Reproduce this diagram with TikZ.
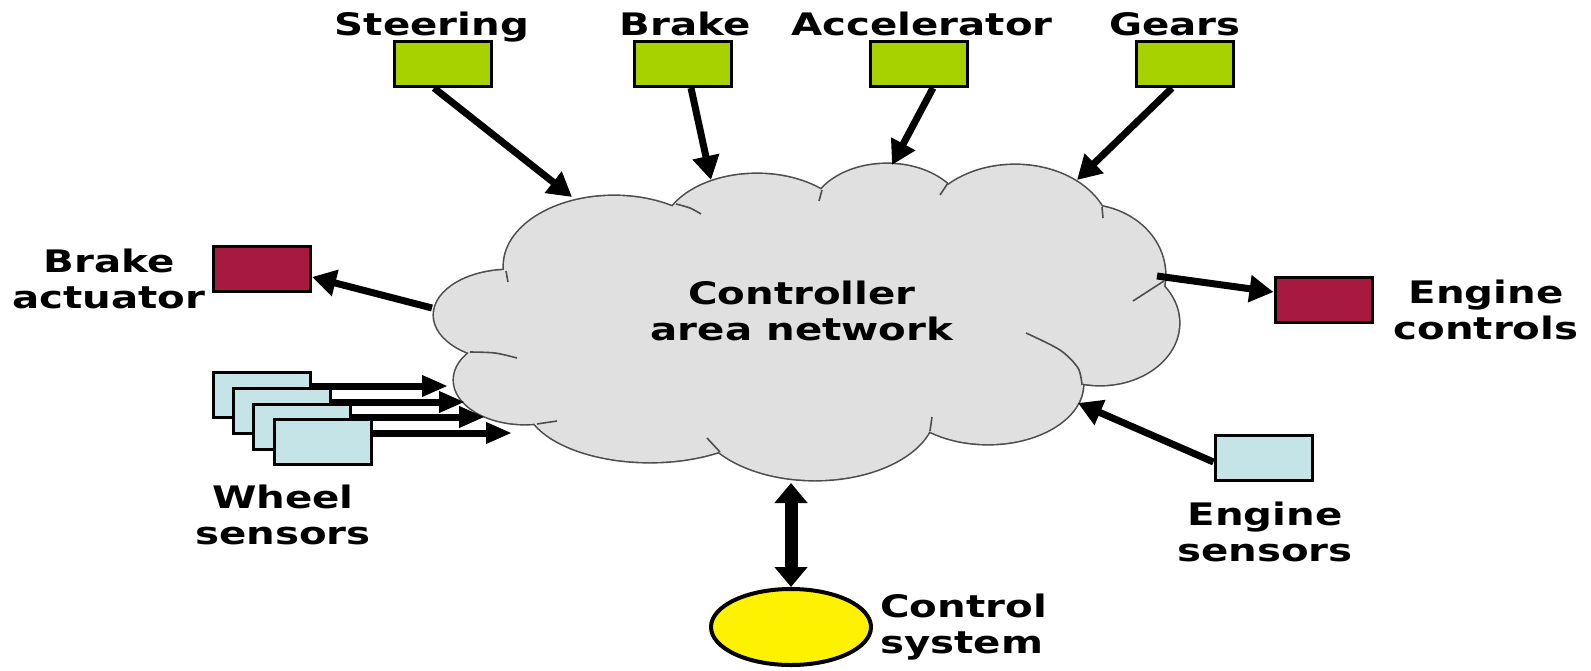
\documentclass[tikz,border=0pt]{standalone}
\usepackage{fontspec}
\newfontfamily\lblfont{DejaVu Sans Bold}[FakeStretch=1.3]
\usetikzlibrary{arrows.meta,calc,shapes.geometric}
\definecolor{gbox}{HTML}{A8D100}
\definecolor{rbox}{HTML}{A8193F}
\definecolor{bbox}{HTML}{C5E4E7}
\definecolor{cloudfill}{HTML}{E0E0E0}
\definecolor{cloudedge}{HTML}{4D4D4D}
\begin{document}
\begin{tikzpicture}[x=0.5pt,y=-0.5pt,
  lbl/.style={font=\lblfont\fontsize{15.5}{18}\selectfont, inner sep=0pt, align=center},
  unit/.style={draw=black, line width=1.5pt, minimum width=48.5pt, minimum height=22.5pt, inner sep=0pt},
  cloudline/.style={draw=cloudedge, line width=0.8pt},
  arr/.style={line width=3.5pt, -{Triangle[length=12pt,width=13pt]}},
  warr/.style={line width=3.5pt, -{Triangle[length=13pt,width=10pt]}},
  darr/.style={line width=6.5pt, {Triangle[length=10pt,width=16pt]}-{Triangle[length=10pt,width=16pt]}}
]
\useasboundingbox (0,0) rectangle (1591,670);

% cloud: union of lobes; outline drawn double width, inner half covered by the fill
\def\lobes{614/266/110/70, 757/234/95/60, 887/219/78/55, 1015/235/95/70,
  1085/275/80/70, 1100/323/79/62, 988/384/95/60, 815/410/120/70,
  650/400/125/62, 525/380/71/44, 510/315/76/45}
\foreach \cx/\cy/\rx/\ry in \lobes
  \draw[draw=cloudedge, line width=1.6pt] (\cx,\cy) ellipse [x radius=\rx, y radius=\ry];
\foreach \cx/\cy/\rx/\ry in \lobes
  \fill[cloudfill] (\cx,\cy) ellipse [x radius=\rx, y radius=\ry];
\fill[cloudfill] (800,320) ellipse [x radius=300, y radius=110];
% inner arcs of the cloud
\draw[cloudline] plot[smooth] coordinates {(470,352) (495,353) (517,358)};
\draw[cloudline] (506,271) -- (508,282);
\draw[cloudline] plot[smooth] coordinates {(676,204) (690,208) (701,214)};
\draw[cloudline] (822,190) -- (819,201);
\draw[cloudline] (948,183) -- (940,195);
\draw[cloudline] (1102,207) -- (1103,218);
\draw[cloudline] plot[smooth] coordinates {(1164,281) (1150,290) (1133,301)};
\draw[cloudline] plot[smooth] coordinates {(1026,333) (1060,350) (1078,368) (1082,385)};
\draw[cloudline] (930,431) -- (932,417);
\draw[cloudline] (720,452) -- (707,438);
\draw[cloudline] (537,424) -- (557,421);

\node[lbl, anchor=north] (can) at (802,280.4) {Controller\\area network};

% cloud attachment points
\coordinate (cSteer) at (572,197);
\coordinate (cBrake) at (711,180);
\coordinate (cAcc) at (892,165);
\coordinate (cGears) at (1077,180);
\coordinate (cBact) at (432,308);
\coordinate (cEctl) at (1157,276);
\coordinate (cEsens) at (1078,403);
\coordinate (cBottom) at (791,483);
\coordinate (cW1) at (448,386);
\coordinate (cW2) at (465,402);
\coordinate (cW3) at (485,417);
\coordinate (cW4) at (512,433);

% top inputs
\node[unit, fill=gbox] (steer) at (443,64) {};
\node[unit, fill=gbox] (brake) at (683,64) {};
\node[unit, fill=gbox] (acc) at (919,64) {};
\node[unit, fill=gbox] (gears) at (1185,64) {};
\node[lbl, anchor=base] (steerl) at (432,35) {Steering};
\node[lbl, anchor=base] (brakel) at (685,35) {Brake};
\node[lbl, anchor=base] (accl) at (922,35) {Accelerator};
\node[lbl, anchor=base] (gearsl) at (1175,35) {Gears};

\draw[arr] ([xshift=-4.5pt]steer.south) -- (cSteer);
\draw[arr] ([xshift=4pt]brake.south) -- (cBrake);
\draw[arr] ([xshift=7pt]acc.south) -- (cAcc);
\draw[arr] ([xshift=-6.5pt]gears.south) -- (cGears);

% brake actuator
\node[unit, fill=rbox] (bact) at (262,268.5) {};
\node[lbl, anchor=north] (bactl) at (109,248.4) {Brake\\actuator};
\draw[arr] (cBact) -- ([yshift=-4.25pt]bact.east);

% engine controls
\node[unit, fill=rbox] (ectl) at (1323.5,300) {};
\node[lbl, anchor=north] (ectll) at (1486,279.4) {Engine\\controls};
\draw[arr] (cEctl) -- ([yshift=4pt]ectl.west);

% engine sensors
\node[unit, fill=bbox] (esens) at (1263.5,457.5) {};
\node[lbl, anchor=north] (esensl) at (1265,501.4) {Engine\\sensors};
\draw[arr] ([yshift=-2.25pt]esens.west) -- (cEsens);

% wheel sensors
\node[unit, fill=bbox] (w1) at (262,395) {};
\node[unit, fill=bbox] (w2) at (281.5,410.5) {};
\node[unit, fill=bbox] (w3) at (301.5,427) {};
\node[unit, fill=bbox] (w4) at (322.5,442) {};
\node[lbl, anchor=north] (wl) at (283,484.4) {Wheel\\sensors};
\draw[warr] ([yshift=4.5pt]w1.east) -- (cW1);
\draw[warr] ([yshift=4.25pt]w2.east) -- (cW2);
\draw[warr] ([yshift=5pt]w3.east) -- (cW3);
\draw[warr] ([yshift=4.5pt]w4.east) -- (cW4);

% control system
\node[ellipse, draw=black, line width=2pt, fill=yellow, minimum width=80pt, minimum height=38pt, inner sep=0pt] (cs) at (791,627) {};
\node[lbl, anchor=north west, align=left] (csl) at (880,593.4) {Control\\system};
\draw[darr] (cBottom) -- (cs.north);
\end{tikzpicture}
\end{document}
